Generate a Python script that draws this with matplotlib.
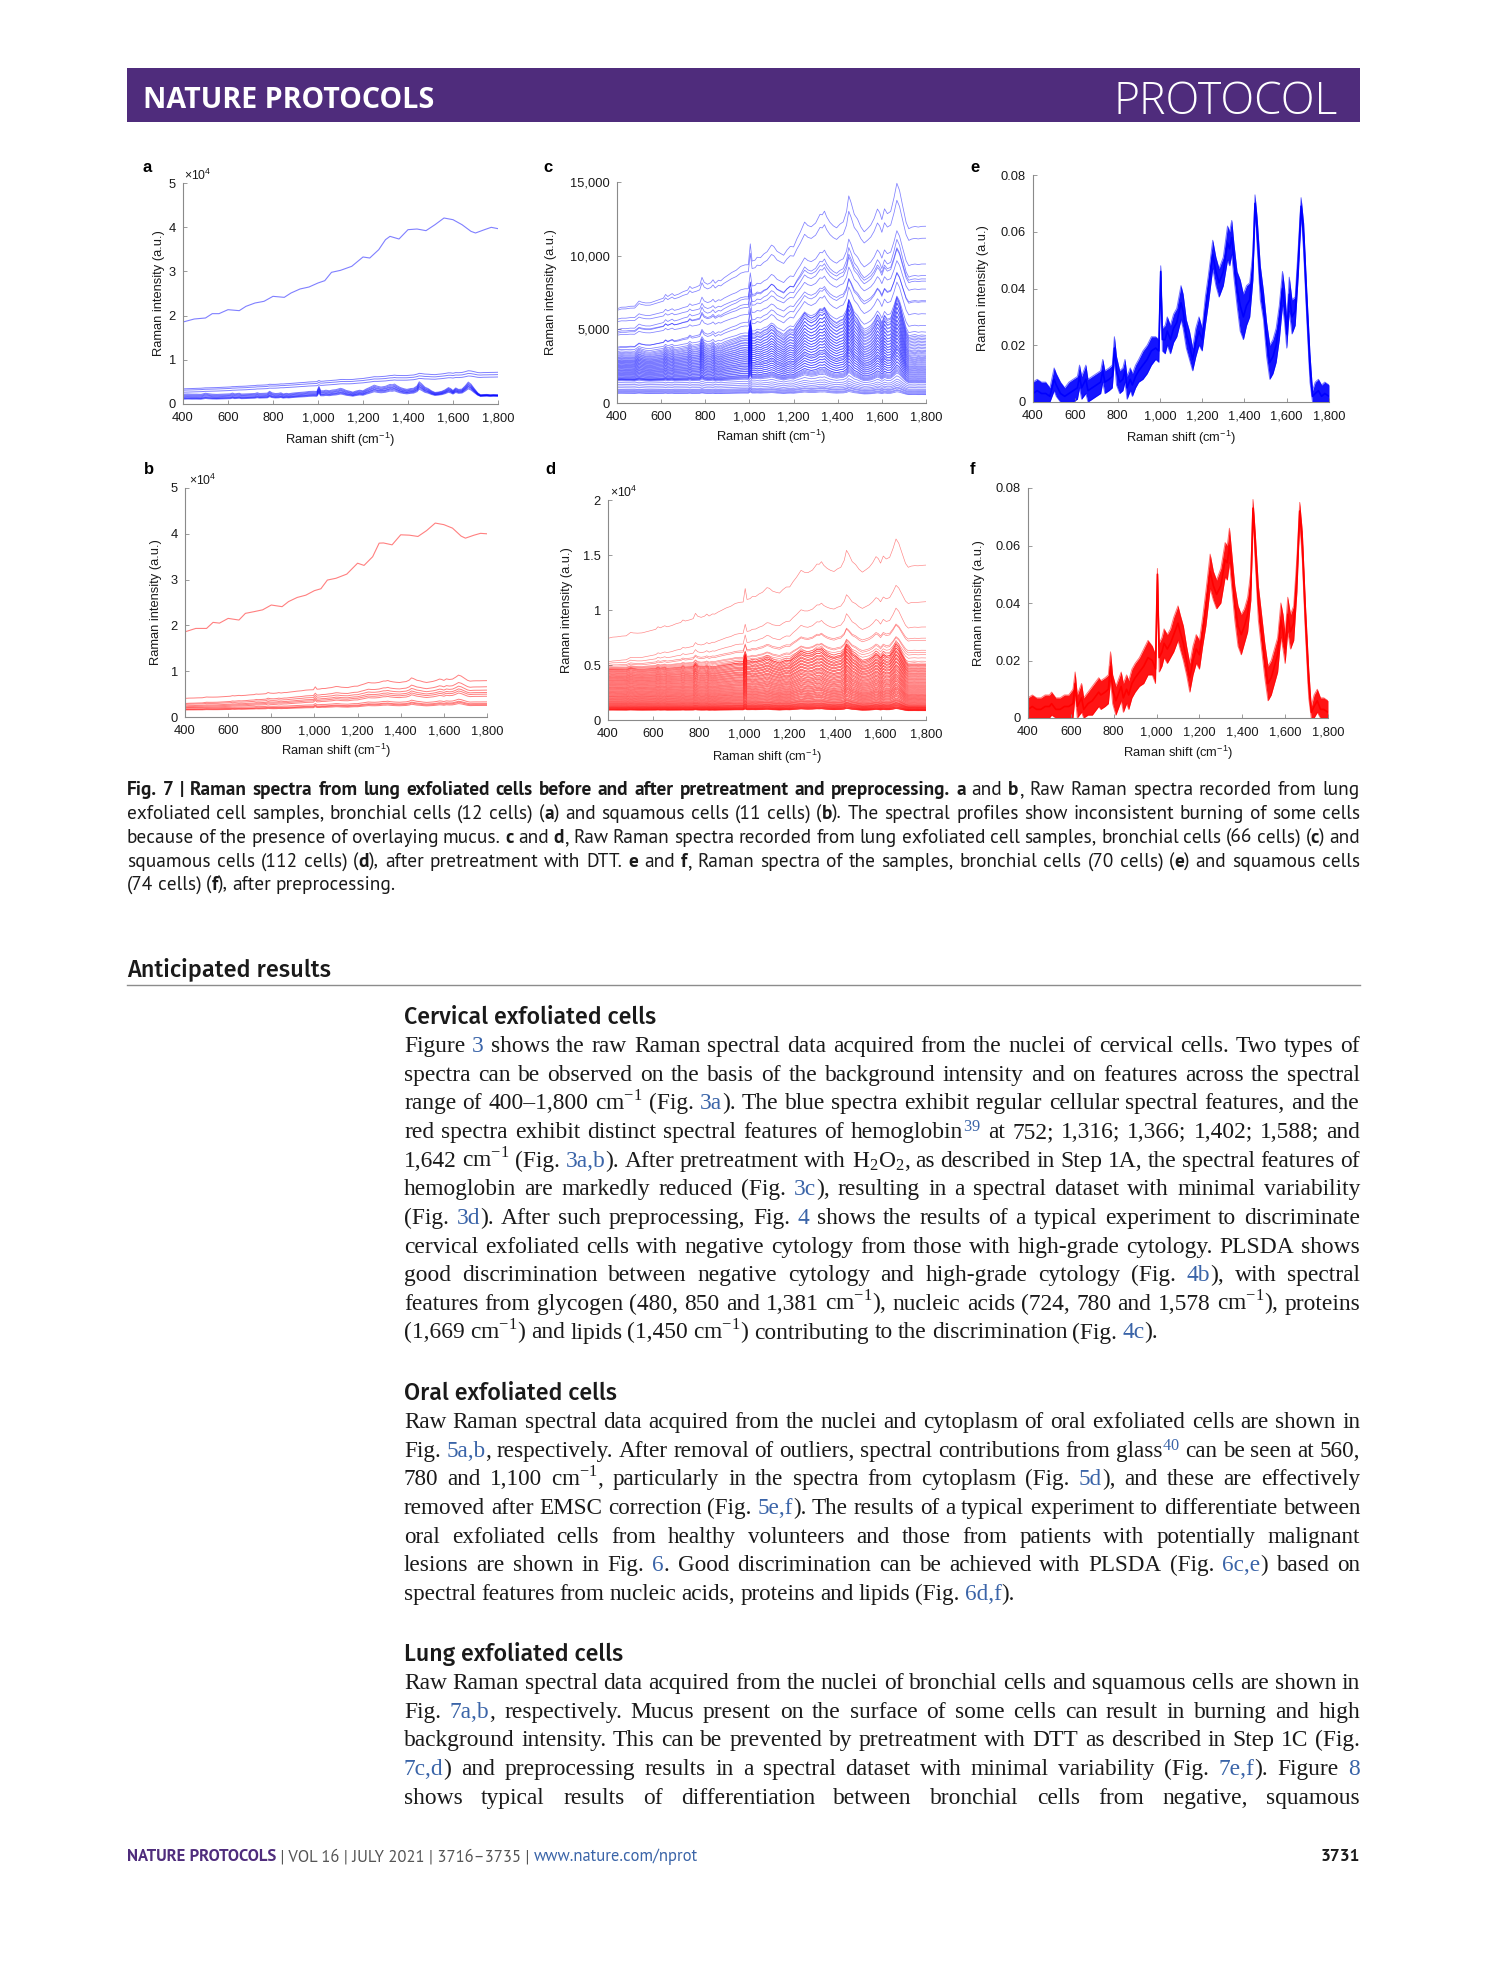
import matplotlib
matplotlib.use('Agg')
import matplotlib.pyplot as plt
from matplotlib import font_manager
from matplotlib.patches import Rectangle
from matplotlib.lines import Line2D
import numpy as np

# ---------------------------------------------------------------- data
# wavenumber grid (cm-1) used for the feature profiles
WAVENUMBER = [400, 420, 440, 460, 480, 500, 510, 530, 550, 570,
              590, 610, 620, 630, 650, 660, 680, 700, 720, 730,
              740, 760, 775, 785, 795, 810, 825, 835, 845, 860,
              870, 885, 900, 920, 940, 960, 980, 995, 1004, 1012,
              1025, 1035, 1050, 1065, 1080, 1100, 1110, 1125, 1140, 1155,
              1170, 1185, 1200, 1215, 1230, 1250, 1265, 1280, 1300, 1320,
              1330, 1340, 1350, 1365, 1380, 1395, 1410, 1425, 1440, 1450,
              1460, 1475, 1490, 1505, 1520, 1535, 1550, 1565, 1580, 1590,
              1600, 1612, 1625, 1640, 1655, 1668, 1680, 1695, 1710, 1722,
              1735, 1750, 1765, 1780, 1800]

# panel e: preprocessed bronchial spectra, band centre and half-width
E_MID = [.003, .004, .003, .003, .002, .008, .006, .003, .002, .003,
         .004, .005, .009, .005, .008, .004, .005, .006, .007, .011,
         .007, .008, .009, .019, .011, .007, .008, .011, .005, .008,
         .006, .009, .011, .013, .015, .018, .019, .018, .046, .022,
         .022, .025, .022, .026, .028, .035, .032, .024, .020, .015,
         .021, .025, .022, .032, .040, .052, .046, .042, .046, .056,
         .054, .058, .050, .040, .034, .030, .034, .036, .048, .070,
         .060, .042, .034, .022, .014, .016, .020, .028, .040, .034,
         .024, .038, .030, .032, .050, .069, .058, .034, .012, .002,
         .003, .004, .002, .003, .002]
E_SPREAD = [.004, .004, .004, .004, .003, .004, .004, .004, .003, .004,
            .004, .004, .004, .004, .005, .004, .004, .004, .004, .004,
            .004, .004, .004, .004, .005, .004, .004, .004, .004, .004,
            .004, .004, .004, .005, .005, .005, .004, .004, .002, .004,
            .005, .005, .005, .005, .005, .006, .006, .005, .005, .004,
            .005, .005, .004, .005, .005, .005, .005, .005, .005, .006,
            .006, .006, .006, .006, .009, .008, .007, .006, .005, .003,
            .005, .006, .005, .006, .006, .006, .006, .006, .006, .006,
            .005, .006, .006, .005, .005, .003, .005, .005, .005, .002,
            .004, .004, .004, .004, .004]

# panel f: preprocessed squamous spectra, band centre and half-width
F_MID = [.003, .004, .003, .003, .004, .004, .005, .003, .003, .004,
         .004, .005, .012, .004, .007, .003, .005, .006, .008, .009,
         .008, .009, .010, .018, .010, .006, .009, .011, .007, .010,
         .008, .012, .014, .016, .018, .021, .020, .017, .050, .021,
         .023, .026, .024, .026, .029, .033, .030, .026, .020, .014,
         .020, .024, .022, .030, .038, .051, .046, .043, .046, .055,
         .054, .060, .052, .040, .032, .029, .032, .036, .046, .073,
         .060, .040, .030, .020, .012, .014, .018, .022, .034, .030,
         .024, .036, .030, .033, .050, .072, .060, .034, .012, .002,
         .004, .006, .003, .003, .002]
F_SPREAD = [.004, .004, .004, .004, .004, .004, .004, .004, .004, .004,
            .004, .005, .004, .004, .005, .004, .004, .005, .005, .005,
            .005, .005, .005, .005, .005, .005, .005, .005, .005, .005,
            .005, .005, .005, .005, .006, .006, .005, .005, .002, .005,
            .005, .005, .005, .005, .006, .006, .006, .006, .005, .005,
            .005, .005, .005, .005, .006, .006, .005, .005, .006, .006,
            .006, .006, .006, .006, .007, .007, .006, .006, .005, .003,
            .005, .006, .006, .006, .006, .006, .006, .006, .006, .006,
            .005, .006, .006, .006, .006, .003, .005, .005, .005, .002,
            .004, .004, .004, .004, .004]

# fluorescence background rise of the raw spectra (0 at 400, 1 at 1,800)
RAMP = [0.00, 0.01, 0.02, 0.03, 0.04, 0.05, 0.055, 0.07, 0.08, 0.09,
        0.10, 0.11, 0.12, 0.13, 0.14, 0.15, 0.16, 0.18, 0.19, 0.20,
        0.21, 0.22, 0.23, 0.24, 0.25, 0.26, 0.27, 0.28, 0.29, 0.30,
        0.31, 0.32, 0.33, 0.35, 0.36, 0.38, 0.39, 0.40, 0.41, 0.41,
        0.42, 0.43, 0.45, 0.46, 0.47, 0.49, 0.50, 0.51, 0.52, 0.54,
        0.55, 0.56, 0.58, 0.59, 0.60, 0.62, 0.63, 0.65, 0.66, 0.68,
        0.69, 0.70, 0.70, 0.72, 0.73, 0.74, 0.75, 0.76, 0.78, 0.78,
        0.79, 0.80, 0.81, 0.82, 0.83, 0.85, 0.86, 0.87, 0.88, 0.89,
        0.89, 0.90, 0.91, 0.92, 0.93, 0.94, 0.95, 0.96, 0.96, 0.97,
        0.98, 0.98, 0.99, 0.99, 1.00]

# burnt (mucus) spectra in panels a and b
BURN_X = [400, 450, 500, 530, 560, 600, 650, 680, 720, 760,
          800, 850, 880, 920, 960, 1000, 1030, 1060, 1100, 1150,
          1200, 1230, 1270, 1300, 1320, 1360, 1400, 1440, 1480, 1520,
          1560, 1600, 1640, 1680, 1700, 1740, 1770, 1800]
A_BURNT = [18550, 19230, 19460, 20440, 20440, 21340, 21120, 22100, 22850, 23230,
           24360, 24130, 25110, 26020, 26470, 27380, 27900, 29790, 30240, 31150,
           33260, 33030, 34920, 37180, 37930, 37330, 39440, 39590, 39220, 40570,
           42080, 41700, 40570, 39060, 38690, 39440, 39970, 39670]
B_BURNT = [18600, 19340, 19340, 20660, 20500, 21530, 21170, 22630, 23000, 23400,
           24450, 24090, 25200, 26100, 26600, 27590, 28000, 29900, 30290, 31200,
           33580, 33100, 35000, 37960, 38000, 37590, 39780, 39700, 39420, 40700,
           42340, 42000, 41240, 39500, 39050, 39700, 40100, 40000]

# per-cell level at 400 cm-1, level at 1,800 cm-1 and band amplitude
A_START = [3400, 3100, 2640, 2100, 1900, 1730, 1550, 1360, 1200, 1130, 1000]
A_END = [7160, 6640, 6100, 2000, 1950, 1900, 1850, 1800, 1800, 1750, 1700]
A_AMP = [600, 500, 450, 3000, 2800, 2600, 2500, 2300, 2200, 2000, 1800]

B_START = [4000, 2900, 2700, 2400, 2200, 2000, 1900, 1700, 1600, 1500]
B_END = [7900, 6570, 5840, 5330, 4960, 4500, 3280, 2920, 2700, 2500]
B_AMP = [1500, 1200, 1100, 1000, 900, 900, 700, 600, 600, 500]

C_START = [6250, 6160, 5570, 5410, 4850, 4740, 4620, 4510, 3680, 3610,
           3500, 3380, 3270, 3200, 3130, 3060, 3000, 2950, 2900, 2850,
           2800, 2760, 2720, 2680, 2640, 2600, 2560, 2520, 2480, 2440,
           2400, 2360, 2320, 2280, 2240, 2200, 2160, 2120, 2080, 2040,
           2000, 1960, 1920, 1880, 1840, 1800, 1760, 1720, 1680, 1640,
           1600, 1580, 1560, 1540, 1520, 1470, 1350, 1240, 1130, 1015,
           900, 850, 790, 740, 680, 650]
C_END = [11900, 11100, 9360, 8350, 8570, 7670, 8200, 6880, 5980, 6800,
         5190, 4740, 4510, 4400, 4300, 4200, 4100, 4000, 3900, 3800,
         3700, 3600, 3500, 3420, 3340, 3260, 3180, 3100, 3020, 2950,
         2880, 2810, 2740, 2670, 2600, 2530, 2460, 2400, 2340, 2280,
         2220, 2160, 2100, 2040, 1980, 1920, 1860, 1800, 1740, 1680,
         1620, 1560, 1500, 1450, 1400, 1350, 1250, 1130, 1020, 920,
         850, 780, 720, 660, 600, 560]
C_AMP = [3400, 3000, 2600, 2400, 2800, 2200, 2500, 2100, 2400, 2300,
         2200, 2500, 2800, 2700, 2600, 2700, 2500, 2600, 2400, 2500,
         2300, 2400, 2200, 2300, 2100, 2200, 2000, 2100, 1900, 2000,
         1800, 1900, 1700, 1800, 1600, 1700, 1500, 1600, 1500, 1400,
         1500, 1300, 1400, 1200, 1300, 1100, 1200, 1000, 1100, 900,
         1000, 900, 850, 800, 750, 700, 600, 500, 450, 400,
         350, 300, 300, 250, 250, 200]

D_START = [7300, 5200, 5050, 4900, 4780, 4700, 4640, 4600, 4550, 4510,
           4470, 4420, 4380, 4330, 4300, 4250, 4200, 4160, 4120, 4060,
           4020, 3980, 3930, 3890, 3850, 3800, 3770, 3720, 3680, 3640,
           3600, 3550, 3510, 3480, 3430, 3390, 3350, 3300, 3270, 3220,
           3180, 3140, 3090, 3050, 3010, 2960, 2920, 2880, 2840, 2800,
           2760, 2710, 2680, 2630, 2590, 2550, 2510, 2470, 2430, 2390,
           2350, 2310, 2270, 2230, 2190, 2150, 2110, 2080, 2040, 2000,
           1960, 1920, 1890, 1850, 1810, 1780, 1740, 1700, 1670, 1630,
           1600, 1560, 1530, 1500, 1470, 1440, 1410, 1380, 1350, 1320,
           1290, 1260, 1240, 1210, 1190, 1160, 1140, 1120, 1100, 1080,
           1060, 1040, 1020, 1000, 985, 970, 955, 940, 925, 910,
           895, 880]
D_END = [14000, 10700, 8400, 7400, 7200, 6300, 6100, 5900, 5600, 5300,
         5100, 5000, 4950, 4900, 4850, 4800, 4720, 4650, 4600, 4550,
         4480, 4420, 4380, 4330, 4270, 4200, 4150, 4100, 4040, 3980,
         3930, 3880, 3820, 3760, 3700, 3650, 3600, 3540, 3480, 3420,
         3370, 3320, 3270, 3210, 3150, 3100, 3050, 3000, 2950, 2900,
         2850, 2800, 2750, 2700, 2650, 2600, 2550, 2500, 2450, 2400,
         2350, 2300, 2260, 2220, 2180, 2140, 2100, 2060, 2020, 1980,
         1940, 1900, 1860, 1820, 1780, 1740, 1700, 1660, 1620, 1580,
         1540, 1500, 1460, 1420, 1380, 1350, 1320, 1290, 1260, 1230,
         1200, 1180, 1160, 1140, 1120, 1100, 1080, 1060, 1040, 1020,
         1000, 980, 960, 945, 930, 915, 900, 885, 870, 855,
         840, 830]
D_AMP = [2900, 1900, 2000, 1500, 1600, 1400, 1500, 1300, 1400, 1300,
         2200, 2000, 2100, 1900, 2000, 1800, 1900, 1700, 1800, 1700,
         1800, 1600, 1700, 1600, 1700, 1500, 1600, 1500, 1600, 1400,
         1500, 1400, 1500, 1300, 1400, 1300, 1400, 1300, 1300, 1200,
         1300, 1200, 1250, 1150, 1200, 1100, 1150, 1100, 1100, 1050,
         1100, 1000, 1050, 1000, 1000, 950, 1000, 900, 950, 900,
         900, 850, 900, 800, 850, 800, 800, 750, 800, 700,
         750, 700, 700, 650, 700, 600, 650, 600, 600, 550,
         600, 500, 550, 500, 500, 450, 500, 450, 450, 400,
         400, 400, 350, 400, 350, 350, 300, 350, 300, 300,
         300, 250, 300, 250, 250, 250, 200, 250, 200, 200,
         200, 200]

XTICKS = [400, 600, 800, 1000, 1200, 1400, 1600, 1800]
XTICKLABELS = ['400', '600', '800', '1,000', '1,200', '1,400', '1,600', '1,800']

# ---------------------------------------------------------------- text
CM = 'cm$^{\\mathregular{-1}}$'
H2O2 = 'H$_{\\mathregular{2}}$O$_{\\mathregular{2}}$'

CAPTION = [
    "*Fig. 7 | Raman spectra from lung exfoliated cells before and after pretreatment and preprocessing. a* and *b*, Raw Raman spectra recorded from lung",
    "exfoliated cell samples, bronchial cells (12 cells) (*a*) and squamous cells (11 cells) (*b*). The spectral profiles show inconsistent burning of some cells",
    "because of the presence of overlaying mucus. *c* and *d*, Raw Raman spectra recorded from lung exfoliated cell samples, bronchial cells (66 cells) (*c*) and",
    "squamous cells (112 cells) (*d*), after pretreatment with DTT. *e* and *f*, Raman spectra of the samples, bronchial cells (70 cells) (*e*) and squamous cells",
    "(74 cells) (*f*), after preprocessing.",
]
CERVICAL = [
    "Figure [3] shows the raw Raman spectral data acquired from the nuclei of cervical cells. Two types of",
    "spectra can be observed on the basis of the background intensity and on features across the spectral",
    "range of 400–1,800 @CM@ (Fig. [3a]). The blue spectra exhibit regular cellular spectral features, and the",
    "red spectra exhibit distinct spectral features of hemoglobin[@S39@] at 752; 1,316; 1,366; 1,402; 1,588; and",
    "1,642 @CM@ (Fig. [3a,b]). After pretreatment with @H2O2@, as described in Step 1A, the spectral features of",
    "hemoglobin are markedly reduced (Fig. [3c]), resulting in a spectral dataset with minimal variability",
    "(Fig. [3d]). After such preprocessing, Fig. [4] shows the results of a typical experiment to discriminate",
    "cervical exfoliated cells with negative cytology from those with high-grade cytology. PLSDA shows",
    "good discrimination between negative cytology and high-grade cytology (Fig. [4b]), with spectral",
    "features from glycogen (480, 850 and 1,381 @CM@), nucleic acids (724, 780 and 1,578 @CM@), proteins",
    "(1,669 @CM@) and lipids (1,450 @CM@) contributing to the discrimination (Fig. [4c]).",
]
ORAL = [
    "Raw Raman spectral data acquired from the nuclei and cytoplasm of oral exfoliated cells are shown in",
    "Fig. [5a,b], respectively. After removal of outliers, spectral contributions from glass[@S40@] can be seen at 560,",
    "780 and 1,100 @CM@, particularly in the spectra from cytoplasm (Fig. [5d]), and these are effectively",
    "removed after EMSC correction (Fig. [5e,f]). The results of a typical experiment to differentiate between",
    "oral exfoliated cells from healthy volunteers and those from patients with potentially malignant",
    "lesions are shown in Fig. [6]. Good discrimination can be achieved with PLSDA (Fig. [6c,e]) based on",
    "spectral features from nucleic acids, proteins and lipids (Fig. [6d,f]).",
]
LUNG = [
    "Raw Raman spectral data acquired from the nuclei of bronchial cells and squamous cells are shown in",
    "Fig. [7a,b], respectively. Mucus present on the surface of some cells can result in burning and high",
    "background intensity. This can be prevented by pretreatment with DTT as described in Step 1C (Fig.",
    "[7c,d]) and preprocessing results in a spectral dataset with minimal variability (Fig. [7e,f]). Figure [8]",
    "shows typical results of differentiation between bronchial cells from negative, squamous",
]

# ---------------------------------------------------------------- setup
W_PX, H_PX, DPI = 1489, 1978, 100
avail = {f.name for f in font_manager.fontManager.ttflist}


def pick(*names):
    for n in names:
        if n in avail:
            return n
    return 'DejaVu Sans'


SANS = pick('Liberation Sans', 'Arial', 'DejaVu Sans')
HDR = pick('Open Sans', 'Lato', 'DejaVu Sans')
CAPF = pick('PT Sans', 'Fira Sans', 'Source Sans Pro', 'Lato', 'Open Sans')
HEADF = pick('Fira Sans', 'PT Sans', 'Open Sans')
SERIF = pick('Liberation Serif', 'Tinos', 'DejaVu Serif')
plt.rcParams['font.family'] = [SANS, 'DejaVu Sans']

PURPLE = '#4F2C7C'
LINK = '#3A64A8'
AXIS_GREY = '#8a8a8a'
TEXT = '#1a1a1a'

fig = plt.figure(figsize=(W_PX / DPI, H_PX / DPI), dpi=DPI)
fig.patch.set_facecolor('white')
renderer = fig.canvas.get_renderer()


def fx(px):
    return px / W_PX


def fy(py):
    return 1 - py / H_PX


def expand(line):
    return (line.replace('@CM@', CM).replace('@H2O2@', H2O2)
            .replace('@S39@', '$^{\\mathregular{39}}$')
            .replace('@S40@', '$^{\\mathregular{40}}$'))


def parse(line):
    words, cur, buf = [], [], ['']
    st = {'b': False, 'l': False}

    def flush():
        if buf[0]:
            cur.append((buf[0], st['b'], st['l']))
            buf[0] = ''
    for ch in line:
        if ch == '*':
            flush(); st['b'] = not st['b']
        elif ch == '[':
            flush(); st['l'] = True
        elif ch == ']':
            flush(); st['l'] = False
        elif ch == ' ':
            flush()
            if cur:
                words.append(list(cur)); cur.clear()
        else:
            buf[0] += ch
    flush()
    if cur:
        words.append(list(cur))
    return words


def text_block(lines, x0, x1, baselines, size, family, color=TEXT,
               justify_last=False, space=0.25):
    W = x1 - x0
    built = []
    for line in lines:
        words = []
        for w in parse(expand(line)):
            ps = [fig.text(0, 0, s, fontsize=size, family=family,
                           weight='bold' if b else 'normal',
                           color=LINK if l else color, ha='left', va='baseline')
                  for (s, b, l) in w]
            words.append(ps)
        built.append(words)

    def measure():
        return [[[p.get_window_extent(renderer).width for p in w] for w in words]
                for words in built]
    widths = measure()
    sp = space * size * DPI / 72
    worst = 1.0
    for ws in widths:
        nat = sum(sum(w) for w in ws) + sp * (len(ws) - 1)
        worst = min(worst, W / nat)
    if worst < 1:
        for words in built:
            for w in words:
                for p in w:
                    p.set_fontsize(size * worst * 0.995)
        widths = measure()
        sp *= worst
    n = len(built)
    for i, (words, ws, yb) in enumerate(zip(built, widths, baselines)):
        tot = sum(sum(w) for w in ws)
        last = (i == n - 1) and not justify_last
        gap = sp if (last or len(words) < 2) else (W - tot) / (len(words) - 1)
        x = x0
        for w, wl in zip(words, ws):
            for p, pw in zip(w, wl):
                p.set_position((fx(x), fy(yb)))
                x += pw
            x += gap


def fit_size(text, target_w, size0, **kw):
    t = fig.text(0, 0, text, fontsize=size0, **kw)
    w = t.get_window_extent(renderer).width
    t.remove()
    return size0 * target_w / w


# ---------------------------------------------------------------- header
fig.add_artist(Rectangle((fx(127), fy(122)), (1360 - 127) / W_PX, (122 - 68) / H_PX,
                         transform=fig.transFigure, facecolor=PURPLE, edgecolor='none'))
s_h = fit_size('NATURE PROTOCOLS', 292, 18, family=HDR, weight='bold')
fig.text(fx(143), fy(97), 'NATURE PROTOCOLS', fontsize=s_h, family=HDR, weight='bold',
         color='white', ha='left', va='center_baseline')
s_p = fit_size('PROTOCOL', 224, 30, family=HDR, weight='light')
fig.text(fx(1338), fy(97), 'PROTOCOL', fontsize=s_p, family=HDR, weight='light',
         color='white', ha='right', va='center_baseline')

# ---------------------------------------------------------------- panels
PANEL_RECTS = {'a': (183, 183, 498, 404), 'c': (617, 182, 926, 403), 'e': (1033, 175, 1329, 402),
               'b': (185, 488, 487, 717), 'd': (608, 500, 926, 720), 'f': (1028, 488, 1328, 718)}
LETTER_POS = {'a': (147, 167), 'c': (548, 167), 'e': (975, 167),
              'b': (149, 470), 'd': (550, 470), 'f': (973, 470)}
YLABEL_X = {'a': 159, 'c': 551, 'e': 983, 'b': 156, 'd': 567, 'f': 979}
XLABEL_Y = {'a': 440, 'c': 437, 'e': 438, 'b': 751, 'd': 757, 'f': 753}
MULT_POS = {'a': (184, 180), 'b': (189, 485), 'd': (610, 497)}
TICK_FS = 9.3
LABEL_FS = 9.3


def panel(key, ylim, yticks, yticklabels):
    l, t, r, b = PANEL_RECTS[key]
    ax = fig.add_axes([fx(l), fy(b), (r - l) / W_PX, (b - t) / H_PX])
    ax.set_xlim(400, 1800)
    ax.set_ylim(*ylim)
    ax.set_xticks(XTICKS, XTICKLABELS)
    ax.set_yticks(yticks, yticklabels)
    ax.spines[['top', 'right']].set_visible(False)
    for s in ('left', 'bottom'):
        ax.spines[s].set_color(AXIS_GREY)
        ax.spines[s].set_linewidth(0.8)
    ax.tick_params(direction='in', length=3, width=0.6, color=AXIS_GREY,
                   labelsize=TICK_FS, labelcolor=TEXT)
    ax.tick_params(axis='x', pad=6)
    ax.tick_params(axis='y', pad=5)
    ax.patch.set_visible(False)
    lx, ly = LETTER_POS[key]
    fig.text(fx(lx), fy(ly), key, fontsize=12, weight='bold', ha='center', va='center',
             color='black')
    fig.text(fx((l + r) / 2), fy(XLABEL_Y[key]), 'Raman shift (cm$^{\\mathregular{-1}}$)',
             fontsize=LABEL_FS, ha='center', va='center', color=TEXT)
    fig.text(fx(YLABEL_X[key]), fy((t + b) / 2), 'Raman intensity (a.u.)',
             fontsize=LABEL_FS, rotation=90, ha='center', va='center', color=TEXT)
    if key in MULT_POS:
        mx, my = MULT_POS[key]
        fig.text(fx(mx), fy(my), '×10$^{\\mathregular{4}}$', fontsize=LABEL_FS - 0.5,
                 ha='left', va='baseline', color=TEXT)
    return ax


wn = np.array(WAVENUMBER, dtype=float)
ramp = np.array(RAMP)
feature = np.array(E_MID) / max(E_MID)


def raw_lines(ax, starts, ends, amps, color, alpha, lw):
    for s, e, a in zip(starts, ends, amps):
        ax.plot(wn, s + (e - s) * ramp + a * feature, color=color, alpha=alpha, lw=lw,
                solid_joinstyle='round')


BLUE = (0.0, 0.0, 1.0)
RED = (1.0, 0.0, 0.0)

# a
ax = panel('a', (0, 50000), [0, 10000, 20000, 30000, 40000, 50000], ['0', '1', '2', '3', '4', '5'])
ax.plot(BURN_X, A_BURNT, color=BLUE, alpha=0.5, lw=0.8)
raw_lines(ax, A_START, A_END, A_AMP, BLUE, 0.5, 0.7)

# b
ax = panel('b', (0, 50000), [0, 10000, 20000, 30000, 40000, 50000], ['0', '1', '2', '3', '4', '5'])
ax.plot(BURN_X, B_BURNT, color=RED, alpha=0.5, lw=0.8)
raw_lines(ax, B_START, B_END, B_AMP, RED, 0.5, 0.7)

# c
ax = panel('c', (0, 15000), [0, 5000, 10000, 15000], ['0', '5,000', '10,000', '15,000'])
raw_lines(ax, C_START, C_END, C_AMP, BLUE, 0.5, 0.55)

# d
ax = panel('d', (0, 20000), [0, 5000, 10000, 15000, 20000], ['0', '0.5', '1', '1.5', '2'])
raw_lines(ax, D_START, D_END, D_AMP, RED, 0.5, 0.45)


def band(ax, mid, spread, color):
    mid = np.array(mid)
    spread = np.array(spread)
    lo = np.clip(mid - spread, 0, None)
    hi = mid + spread
    ax.fill_between(wn, lo, hi, color=color, lw=0, alpha=0.92)
    ax.plot(wn, hi, color=color, lw=0.7, alpha=0.55)
    ax.plot(wn, lo, color=color, lw=0.7, alpha=0.55)
    ax.plot(wn, mid, color=color, lw=1.2)


ax = panel('e', (0, 0.08), [0, 0.02, 0.04, 0.06, 0.08], ['0', '0.02', '0.04', '0.06', '0.08'])
band(ax, E_MID, E_SPREAD, BLUE)
ax = panel('f', (0, 0.08), [0, 0.02, 0.04, 0.06, 0.08], ['0', '0.02', '0.04', '0.06', '0.08'])
band(ax, F_MID, F_SPREAD, RED)

# ---------------------------------------------------------------- caption
cap_base = [790 + 5, 814 + 5, 838 + 5, 862 + 5, 885 + 5]
text_block(CAPTION, 127, 1360, cap_base, 14.5, CAPF, space=0.24)

# ---------------------------------------------------------------- body
s_ar = fit_size('Anticipated results', 204, 15, family=HEADF, weight='medium')
fig.text(fx(127), fy(976), 'Anticipated results', fontsize=s_ar, family=HEADF,
         weight='medium', color=TEXT, ha='left', va='baseline')
fig.add_artist(Line2D([fx(127), fx(1360)], [fy(985), fy(985)], color='#8c8c8c', lw=1.0,
                      transform=fig.transFigure))

s_sub = fit_size('Cervical exfoliated cells', 253, 14, family=HEADF, weight='medium')
for title, yc in (('Cervical exfoliated cells', 1017), ('Oral exfoliated cells', 1393),
                  ('Lung exfoliated cells', 1654)):
    fig.text(fx(404), fy(yc + 7), title, fontsize=s_sub, family=HEADF, weight='medium',
             color=TEXT, ha='left', va='baseline')

LEAD = 28.65
text_block(CERVICAL, 404, 1360, [1046 + 6 + i * LEAD for i in range(len(CERVICAL))],
           18, SERIF, space=0.22)
text_block(ORAL, 404, 1360, [1422 + 6 + i * LEAD for i in range(len(ORAL))], 18, SERIF,
           space=0.22)
text_block(LUNG, 404, 1360, [1683 + 6 + i * LEAD for i in range(len(LUNG))], 18, SERIF,
           justify_last=True, space=0.22)

# ---------------------------------------------------------------- footer
foot = [('NATURE PROTOCOLS', 'bold', PURPLE), (' | VOL 16 | JULY 2021 | 3716–3735 | ', 'normal', '#555555'),
        ('www.nature.com/nprot', 'normal', LINK)]
fs = fit_size(''.join(p[0] for p in foot), 570, 10, family=CAPF)
x = 127
for s, wgt, col in foot:
    t = fig.text(fx(x), fy(1861), s, fontsize=fs, family=CAPF, weight=wgt, color=col,
                 ha='left', va='baseline')
    x += t.get_window_extent(renderer).width
fig.text(fx(1360), fy(1861), '3731', fontsize=fs * 1.05, family=CAPF, weight='bold',
         color=TEXT, ha='right', va='baseline')

fig.savefig('out.png', dpi=DPI, facecolor='white')
